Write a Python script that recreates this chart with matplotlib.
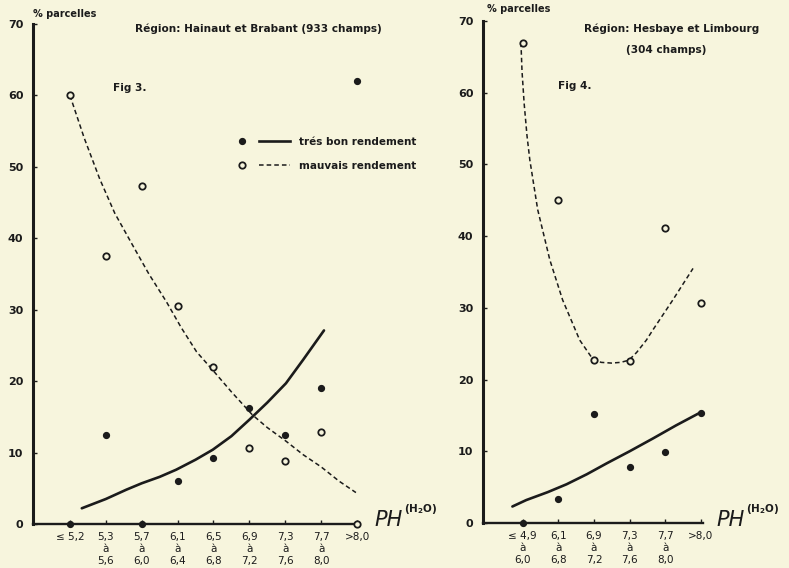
import matplotlib
matplotlib.use("Agg")
import matplotlib.pyplot as plt
from matplotlib.lines import Line2D
from matplotlib.legend_handler import HandlerTuple

# ---------------- data ----------------
cats_left = ["≤ 5,2", "5,3\nà\n5,6", "5,7\nà\n6,0", "6,1\nà\n6,4", "6,5\nà\n6,8",
             "6,9\nà\n7,2", "7,3\nà\n7,6", "7,7\nà\n8,0", ">8,0"]
good_left = [0, 12.4, 0, 6.0, 9.2, 16.2, 12.4, 19.0, 62.0]      # très bon rendement
bad_left = [60, 37.5, 47.3, 30.5, 22.0, 10.6, 8.8, 12.9, 0]     # mauvais rendement

# trend curves drawn on the figure
good_left_curve_x = [0.33, 1.0, 1.57, 2.0, 2.5, 2.96, 3.5, 3.98, 4.5, 5.0, 5.5, 6.02, 6.5, 7.08]
good_left_curve_y = [2.2, 3.5, 4.8, 5.7, 6.6, 7.6, 9.0, 10.4, 12.3, 14.6, 17.0, 19.7, 23.0, 27.1]
bad_left_curve_x = [0.0, 0.4, 0.83, 1.25, 1.75, 2.2, 2.69, 3.1, 3.53, 3.97, 4.5, 5.08, 5.5, 6.02, 6.5, 7.0, 7.5, 7.97]
bad_left_curve_y = [60, 54, 48.3, 43.5, 39, 35, 31.1, 27.5, 24.1, 21.6, 18.5, 15.3, 13.5, 11.6, 9.7, 8.0, 6.0, 4.4]

cats_right = ["≤ 4,9\nà\n6,0", "6,1\nà\n6,8", "6,9\nà\n7,2", "7,3\nà\n7,6", "7,7\nà\n8,0", ">8,0"]
good_right = [0, 3.3, 15.2, 7.8, 9.9, 15.4]
bad_right = [67, 45, 22.7, 22.6, 41.1, 30.7]

good_right_curve_x = [-0.29, 0.1, 0.7, 1.23, 1.8, 2.35, 3.0, 3.66, 4.3, 5.02]
good_right_curve_y = [2.3, 3.2, 4.3, 5.4, 6.8, 8.3, 10.0, 11.8, 13.6, 15.5]
bad_right_curve_x = [-0.05, -0.02, 0.04, 0.12, 0.2, 0.42, 0.76, 1.12, 1.6, 1.96, 2.2, 2.49, 2.75, 2.98, 3.2, 3.47, 3.65, 4.2, 4.78]
bad_right_curve_y = [67, 63, 58.5, 54.0, 50.6, 43.7, 36.7, 31.1, 25.5, 22.9, 22.4, 22.3, 22.4, 22.7, 23.8, 25.5, 26.9, 31.0, 35.5]

yticks = [0, 10, 20, 30, 40, 50, 60, 70]

# ---------------- style ----------------
BG = "#f7f5dd"
INK = "#1b1b1b"
W, H = 789, 568

fig = plt.figure(figsize=(W / 100, H / 100), dpi=100, facecolor=BG)


def fx(px):
    return px / W


def fy(py):
    return 1 - py / H


def make_axes(left_px, right_px, top_px, bottom_px, xlim):
    ax = fig.add_axes([fx(left_px), fy(bottom_px), fx(right_px) - fx(left_px), fy(top_px) - fy(bottom_px)])
    ax.set_facecolor(BG)
    ax.set_xlim(*xlim)
    ax.set_ylim(0, 70)
    for s in ("top", "right"):
        ax.spines[s].set_visible(False)
    ax.spines["left"].set_linewidth(2.2)
    ax.spines["bottom"].set_linewidth(1.7)
    ax.spines["left"].set_color(INK)
    ax.spines["bottom"].set_color(INK)
    ax.set_yticks(yticks)
    ax.set_yticklabels([str(v) for v in yticks], fontsize=8, color=INK, fontweight="bold")
    ax.tick_params(axis="y", direction="in", length=3, width=1, pad=7, colors=INK)
    ax.tick_params(axis="x", direction="in", length=3, width=1, pad=6, colors=INK)
    return ax


def draw(ax, cats, good, bad, gcx, gcy, bcx, bcy):
    xs = list(range(len(cats)))
    ax.set_xticks(xs)
    ax.set_xticklabels(cats, fontsize=7.5, color=INK, linespacing=1.25)
    ax.plot(gcx, gcy, color=INK, lw=1.9, solid_capstyle="round", clip_on=False)
    ax.plot(bcx, bcy, color=INK, lw=1.1, ls=(0, (3.0, 2.0)), clip_on=False)
    ax.plot(xs, good, ls="none", marker="o", ms=4.2, mfc=INK, mec=INK, clip_on=False, zorder=5)
    ax.plot(xs, bad, ls="none", marker="o", ms=4.6, mfc=BG, mec=INK, mew=1.3, clip_on=False, zorder=5)


axL = make_axes(33, 357, 24, 524, (-1.03, 8.0))
draw(axL, cats_left, good_left, bad_left, good_left_curve_x, good_left_curve_y,
     bad_left_curve_x, bad_left_curve_y)

axR = make_axes(483, 703, 21, 523, (-1.115, 5.06))
draw(axR, cats_right, good_right, bad_right, good_right_curve_x, good_right_curve_y,
     bad_right_curve_x, bad_right_curve_y)

# ---------------- texts ----------------
tkw = dict(color=INK, fontweight="bold")
fig.text(fx(33), fy(14), "% parcelles", fontsize=7, va="center", ha="left", **tkw)
fig.text(fx(135), fy(29), "Région: Hainaut et Brabant (933 champs)", fontsize=7.6, va="center", ha="left", **tkw)
fig.text(fx(113), fy(88), "Fig 3.", fontsize=7.6, va="center", ha="left", **tkw)

fig.text(fx(487), fy(9), "% parcelles", fontsize=7, va="center", ha="left", **tkw)
fig.text(fx(584), fy(29), "Région: Hesbaye et Limbourg", fontsize=7.6, va="center", ha="left", **tkw)
fig.text(fx(626), fy(50), "(304 champs)", fontsize=7.6, va="center", ha="left", **tkw)
fig.text(fx(558), fy(86), "Fig 4.", fontsize=7.6, va="center", ha="left", **tkw)

for px_ph, px_sup in ((374, 404), (716, 746)):
    fig.text(fx(px_ph), fy(520), "PH", fontsize=15, style="italic", color=INK, va="center", ha="left")
    fig.text(fx(px_sup), fy(509), r"(H$_\mathbf{2}$O)", fontsize=7.5, fontweight="bold",
             color=INK, va="center", ha="left")

# ---------------- legend ----------------
m_good = Line2D([], [], ls="none", marker="o", ms=4.2, mfc=INK, mec=INK)
l_good = Line2D([], [], color=INK, lw=1.9)
m_bad = Line2D([], [], ls="none", marker="o", ms=4.6, mfc=BG, mec=INK, mew=1.3)
l_bad = Line2D([], [], color=INK, lw=1.1, ls=(0, (3.0, 2.0)))
leg = fig.legend(handles=[(m_good, l_good), (m_bad, l_bad)],
                 labels=["trés bon rendement", "mauvais rendement"],
                 handler_map={tuple: HandlerTuple(ndivide=None, pad=0.2)},
                 frameon=False, handlelength=6.0, handletextpad=0.9,
                 labelspacing=1.3, borderpad=0, borderaxespad=0,
                 loc="upper left", bbox_to_anchor=(fx(227), fy(137)),
                 bbox_transform=fig.transFigure,
                 prop={"size": 7.5, "weight": "bold"})
for t in leg.get_texts():
    t.set_color(INK)

fig.savefig("out.png", dpi=100, facecolor=BG)
